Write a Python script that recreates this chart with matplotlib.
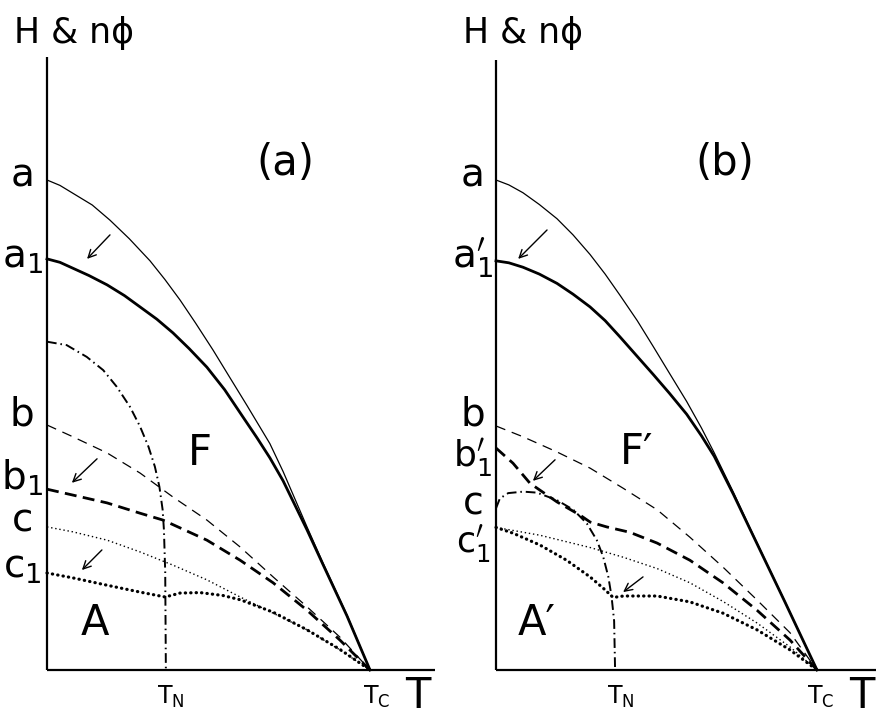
import matplotlib
matplotlib.use("Agg")
import matplotlib.pyplot as plt

# ---------- panel (a) curves, T in units of Tc, H scaled so that a = 1 ----------
a_T = [0, 0.04, 0.080, 0.14, 0.195, 0.255, 0.319, 0.365, 0.412, 0.46, 0.514, 0.565, 0.619,
       0.690, 0.731, 0.805, 0.854, 0.929, 1.0]
a_H = [1.0, 0.989, 0.973, 0.949, 0.918, 0.880, 0.835, 0.797, 0.755, 0.708, 0.653, 0.598, 0.540,
       0.462, 0.405, 0.292, 0.219, 0.112, 0.0]
a1_T = [0, 0.04, 0.080, 0.13, 0.186, 0.24, 0.288, 0.34, 0.390, 0.44, 0.495, 0.55, 0.607,
        0.650, 0.690, 0.731, 0.805, 0.854, 0.929, 1.0]
a1_H = [0.839, 0.832, 0.820, 0.805, 0.786, 0.764, 0.741, 0.716, 0.688, 0.656, 0.618, 0.572, 0.516,
        0.474, 0.433, 0.386, 0.286, 0.216, 0.110, 0.0]
dd_T = [0, 0.061, 0.123, 0.174, 0.216, 0.257, 0.288, 0.314, 0.334, 0.348, 0.358, 0.362, 0.366, 0.368]
dd_H = [0.670, 0.663, 0.639, 0.612, 0.578, 0.537, 0.497, 0.456, 0.415, 0.374, 0.327, 0.286, 0.200, 0.0]
b_T = [0, 0.080, 0.186, 0.288, 0.390, 0.495, 0.598, 0.70, 0.805, 0.907, 1.0]
b_H = [0.500, 0.476, 0.443, 0.402, 0.353, 0.306, 0.251, 0.190, 0.129, 0.067, 0.0]
b1_T = [0, 0.080, 0.186, 0.288, 0.359, 0.495, 0.598, 0.70, 0.805, 0.907, 1.0]
b1_H = [0.369, 0.357, 0.341, 0.320, 0.306, 0.265, 0.224, 0.178, 0.122, 0.061, 0.0]
c_T = [0, 0.080, 0.186, 0.288, 0.390, 0.495, 0.598, 0.70, 0.805, 0.907, 1.0]
c_H = [0.292, 0.282, 0.265, 0.241, 0.214, 0.184, 0.149, 0.116, 0.082, 0.041, 0.0]
c1_T = [0, 0.080, 0.186, 0.288, 0.366, 0.412, 0.474, 0.545, 0.60, 0.70, 0.805, 0.907, 1.0]
c1_H = [0.198, 0.188, 0.173, 0.159, 0.149, 0.157, 0.158, 0.152, 0.143, 0.118, 0.082, 0.042, 0.0]

# ---------- panel (b) curves ----------
pa_T = [0, 0.04, 0.084, 0.135, 0.190, 0.24, 0.293, 0.34, 0.386, 0.44, 0.490, 0.54, 0.594,
        0.640, 0.680, 0.74, 0.791, 0.900, 1.0]
pa_H = [1.0, 0.990, 0.974, 0.950, 0.921, 0.888, 0.848, 0.808, 0.765, 0.713, 0.660, 0.606, 0.548,
        0.494, 0.443, 0.362, 0.290, 0.140, 0.0]
pa1_T = [0, 0.04, 0.084, 0.135, 0.190, 0.24, 0.293, 0.34, 0.386, 0.44, 0.490, 0.54, 0.594,
         0.640, 0.680, 0.74, 0.791, 0.900, 1.0]
pa1_H = [0.835, 0.831, 0.822, 0.808, 0.789, 0.767, 0.741, 0.713, 0.680, 0.640, 0.603, 0.565, 0.522,
         0.478, 0.436, 0.358, 0.288, 0.139, 0.0]
pdd_T = [0, 0.012, 0.038, 0.085, 0.127, 0.189, 0.241, 0.283, 0.314, 0.334, 0.350, 0.360, 0.368, 0.371]
pdd_H = [0.330, 0.350, 0.361, 0.364, 0.362, 0.347, 0.327, 0.299, 0.265, 0.231, 0.190, 0.150, 0.100, 0.0]
pb_T = [0, 0.084, 0.190, 0.293, 0.396, 0.502, 0.604, 0.707, 0.813, 0.916, 1.0]
pb_H = [0.498, 0.476, 0.445, 0.412, 0.371, 0.327, 0.271, 0.210, 0.143, 0.076, 0.0]
pb1_T = [0, 0.053, 0.106, 0.190, 0.262, 0.293, 0.345, 0.417, 0.502, 0.604, 0.707, 0.813, 0.916, 1.0]
pb1_H = [0.453, 0.422, 0.381, 0.343, 0.316, 0.302, 0.292, 0.281, 0.259, 0.224, 0.178, 0.122, 0.061, 0.0]
pc_T = [0, 0.137, 0.293, 0.397, 0.502, 0.604, 0.707, 0.813, 0.916, 1.0]
pc_H = [0.291, 0.275, 0.250, 0.230, 0.207, 0.178, 0.140, 0.096, 0.047, 0.0]
pc1_T = [0, 0.054, 0.137, 0.220, 0.293, 0.334, 0.365, 0.397, 0.502, 0.604, 0.707, 0.813, 0.916, 1.0]
pc1_H = [0.291, 0.279, 0.255, 0.224, 0.190, 0.167, 0.148, 0.151, 0.151, 0.139, 0.116, 0.082, 0.041, 0.0]

TN = 0.368

# arrows: (tail T, tail H, head T, head H)
arrows_a = [(0.195, 0.888, 0.124, 0.839), (0.155, 0.431, 0.077, 0.382), (0.170, 0.245, 0.108, 0.204)]
arrows_b = [(0.159, 0.898, 0.069, 0.839), (0.184, 0.429, 0.115, 0.386), (0.458, 0.190, 0.396, 0.159)]

# left-side labels: (text, H of baseline, font size)
labels_a = [("a", 0.986, 28), ("a$_\\mathregular{1}$", 0.822, 28), ("b", 0.500, 28),
            ("b$_\\mathregular{1}$", 0.367, 28), ("c", 0.282, 28), ("c$_\\mathregular{1}$", 0.188, 28)]
labels_b = [("a", 0.986, 28), ("a$^{\\prime}_\\mathregular{1}$", 0.822, 28), ("b", 0.500, 28),
            ("b$^{\\prime}_\\mathregular{1}$", 0.414, 26), ("c", 0.318, 27),
            ("c$^{\\prime}_\\mathregular{1}$", 0.240, 25)]

styles = {
    "thin": dict(lw=0.9, ls="-"),
    "thick": dict(lw=2.0, ls="-"),
    "dash": dict(lw=0.9, ls=(0, (8, 5.5))),
    "tdash": dict(lw=2.0, ls=(0, (4.3, 2.3))),
    "dashdot": dict(lw=1.4, ls=(0, (5, 2, 0.8, 2))),
    "dot": dict(lw=1.0, ls=(0, (1, 2))),
    "tdot": dict(lw=2.3, ls=(0, (0.1, 1.6)), dash_capstyle="round"),
}

fig = plt.figure(figsize=(8.76, 7.18), dpi=100)
ax_a = fig.add_axes([0, 0, 0.5, 1])
ax_b = fig.add_axes([0.5, 0, 0.5, 1])
ax_a.set_xlim(-47 / 323, (438 - 47) / 323)
ax_b.set_xlim((438 - 496) / 321, (876 - 496) / 321)
for ax in (ax_a, ax_b):
    ax.set_ylim(-48 / 490, 670 / 490)
    ax.axis("off")


def draw_panel(ax, curves, arrows, labels, xend, ytop, lab_x, title, F, A, tn_x, tc_x, T_x):
    ax.plot([0, 0], [0, ytop], color="black", lw=1.6, solid_capstyle="butt")
    ax.plot([0, xend], [0, 0], color="black", lw=1.6, solid_capstyle="butt", clip_on=False)
    for T, H, st in curves:
        ax.plot(T, H, color="black", clip_on=False, solid_joinstyle="round", **styles[st])
    for t0, h0, t1, h1 in arrows:
        ax.annotate("", xy=(t1, h1), xytext=(t0, h0),
                    arrowprops=dict(arrowstyle="->", lw=1.0, color="black",
                                    shrinkA=0, shrinkB=0, mutation_scale=14))
    for txt, h, fs in labels:
        ax.text(lab_x, h, txt, fontsize=fs, ha="center", va="baseline")
    ax.text(0.085, 1.30, "H & nϕ", fontsize=25, ha="center", va="center")
    ax.text(title[0], 1.035, title[1], fontsize=30, ha="center", va="center")
    ax.text(F[0], F[1], F[2], fontsize=30, ha="center", va="center")
    ax.text(A[0], A[1], A[2], fontsize=30, ha="center", va="center")
    ax.text(tn_x, -0.070, "T$_\\mathregular{N}$", fontsize=17, ha="center", va="baseline")
    ax.text(tc_x, -0.070, "T$_\\mathregular{C}$", fontsize=17, ha="center", va="baseline")
    ax.text(T_x, -0.078, "T", fontsize=30, ha="center", va="baseline")


draw_panel(ax_a,
           [(a_T, a_H, "thin"), (a1_T, a1_H, "thick"), (dd_T, dd_H, "dashdot"),
            (b_T, b_H, "dash"), (b1_T, b1_H, "tdash"),
            (c_T, c_H, "dot"), (c1_T, c1_H, "tdot")],
           arrows_a, labels_a, (435 - 47) / 323, (670 - 57) / 490, -0.077,
           (0.737, "(a)"), (0.474, 0.443, "F"), (0.149, 0.096, "A"),
           TN + 0.015, 1.02, 1.149)

draw_panel(ax_b,
           [(pa_T, pa_H, "thin"), (pa1_T, pa1_H, "thick"), (pdd_T, pdd_H, "dashdot"),
            (pb_T, pb_H, "dash"), (pb1_T, pb1_H, "tdash"),
            (pc_T, pc_H, "dot"), (pc1_T, pc1_H, "tdot")],
           arrows_b, labels_b, (876 - 496) / 321, (670 - 60) / 490, -0.072,
           (0.713, "(b)"), (0.439, 0.445, "F′"), (0.128, 0.096, "A′"),
           TN + 0.02, 1.01, 1.14)

fig.savefig("out.png", dpi=100)
